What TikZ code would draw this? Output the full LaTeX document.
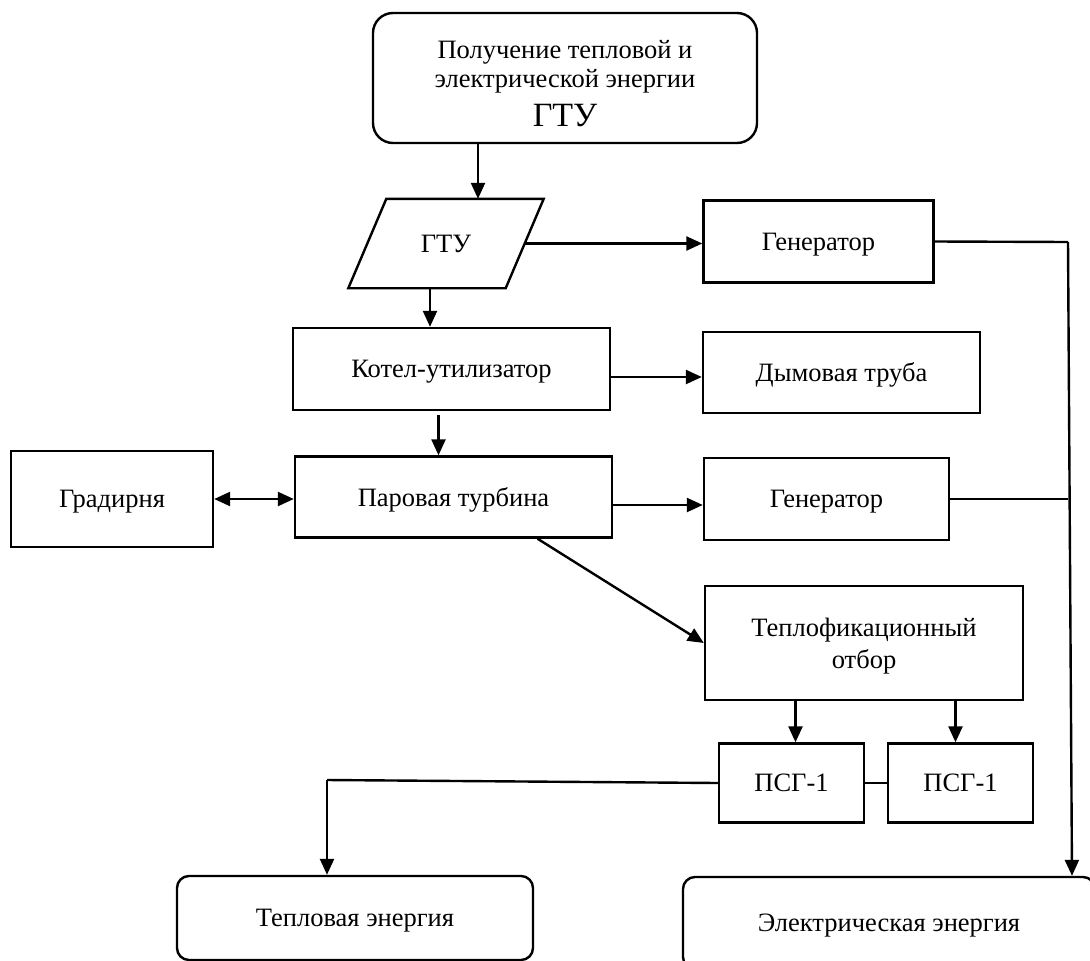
\documentclass[tikz,border=0pt]{standalone}
\usepackage{fontspec}
\setmainfont{Liberation Serif}
\usetikzlibrary{arrows.meta}

\begin{document}
\begin{tikzpicture}[x=1pt,y=-1pt,line width=2.4pt,
    box/.style={draw,rectangle,font=\fontsize{26.5}{32}\selectfont},
    rbox/.style={box,rounded corners=12pt},
    tip/.tip={Triangle[length=16pt,width=14pt]},
    arr/.style={-tip}]
  \useasboundingbox (0,0) rectangle (1090,961);

  \node[rbox,rounded corners=20pt,minimum width=384,minimum height=130,align=center,
    font=\fontsize{26.5}{29}\selectfont] (top) at (565,78)
    {\rule{0pt}{30pt}Получение тепловой и\\электрической энергии\\[10pt]{\fontsize{34}{40}\selectfont ГТУ}};
  \node[box,draw=none,minimum width=155,minimum height=87,text depth=0pt] (gtu) at (446,243.5) {ГТУ};
  \draw ([xshift=-19pt]gtu.south west) -- ([xshift=19pt]gtu.north west)
    -- ([xshift=19pt]gtu.north east) -- ([xshift=-19pt]gtu.south east) -- cycle;

  \foreach \name/\x/\y/\w/\h/\txt in {
      gen1/818.5/241.5/230/82/Генератор,
      kotel/451.5/369/317/82/Котел-утилизатор,
      dym/841.5/372.5/277/81/Дымовая труба,
      grad/112/499/202/96/Градирня,
      turb/453.5/497/317/81/Паровая турбина,
      gen2/826.5/499/245/82/Генератор,
      psg1/791.5/783/145/79/ПСГ-1,
      psg2/960.5/783/145/79/ПСГ-1} {
    \node[box,minimum width=\w,minimum height=\h,text depth=0pt] (\name) at (\x,\y) {\txt};
  }
  \node[box,align=center,minimum width=318,minimum height=114] (teplo) at (864,643)
    {\rule{0pt}{24pt}Теплофикационный\\отбор};

  \node[rbox,minimum width=356,minimum height=84,text depth=0pt] (heat) at (355,918) {Тепловая энергия};
  \node[rbox,minimum width=412,minimum height=92,text depth=0pt] (elec) at (889,923) {Электрическая энергия};

  \draw[arr] ([xshift=32pt]gtu.north |- top.south) -- ([xshift=32pt]gtu.north);
  \draw[arr] (gtu.east) -- (gtu.east -| gen1.west);
  \draw[arr] ([xshift=-16pt]gtu.south) -- ([xshift=-16pt]gtu.south |- kotel.north);
  \draw[arr] ([yshift=-8pt]kotel.east) -- ([yshift=-8pt]kotel.east -| dym.west);
  \draw[arr] ([xshift=-13pt,yshift=-4pt]kotel.south) -- ([xshift=-13pt]kotel.south |- turb.north);
  \draw[tip-tip] (grad.east) -- (grad.east -| turb.west);
  \draw[arr] ([yshift=-8pt]turb.east) -- ([yshift=-8pt]turb.east -| gen2.west);
  \draw[arr] ([xshift=84pt]turb.south) -- (teplo.west);
  \draw[arr] ([xshift=4pt]psg1.north |- teplo.south) -- ([xshift=4pt]psg1.north);
  \draw[arr] ([xshift=-5pt]psg2.north |- teplo.south) -- ([xshift=-5pt]psg2.north);
  \draw (psg1.east) -- (psg2.west);

  \coordinate (hc) at (327,780);
  \draw (psg1.west) -- (hc);
  \draw[arr] (hc) -- (hc |- heat.north);

  \coordinate (ec) at (1068,242);
  \draw (gen1.east) -- (ec);
  \draw (gen2.east) -- (gen2.east -| ec);
  \draw[arr] (ec) -- ([xshift=4pt]ec |- elec.north);
\end{tikzpicture}
\end{document}
